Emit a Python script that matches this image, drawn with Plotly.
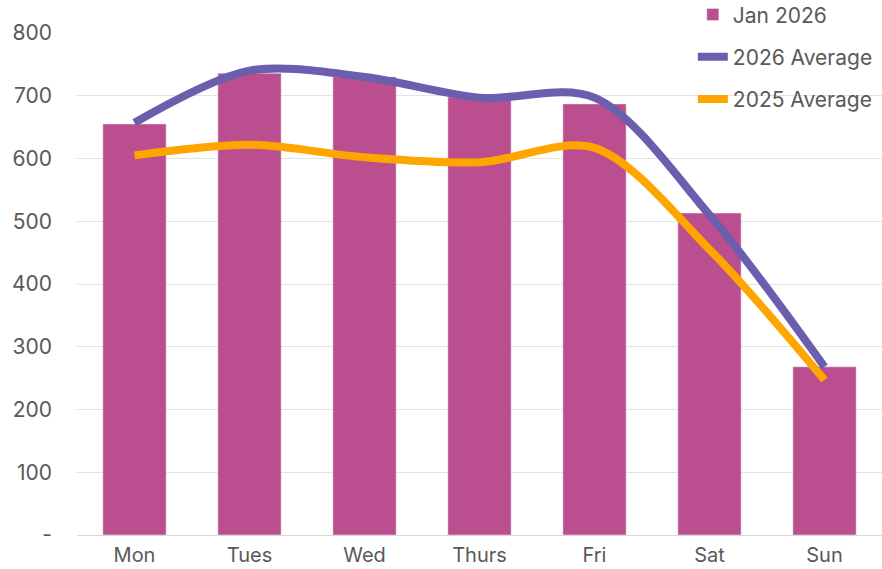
import plotly.graph_objects as go

days = ["Mon", "Tues", "Wed", "Thurs", "Fri", "Sat", "Sun"]
jan_2026 = [655, 736, 730, 698, 687, 513, 268]
avg_2026 = [657, 740, 730, 697, 697, 510, 268]
avg_2025 = [605, 622, 602, 594, 617, 455, 247]
y_ticks = [0, 100, 200, 300, 400, 500, 600, 700, 800]
y_tick_text = ["-", "100", "200", "300", "400", "500", "600", "700", "800"]

fig = go.Figure()
fig.add_trace(go.Bar(x=days, y=jan_2026, name="Jan 2026", marker_color="#BA4E8E",
                     legendgroup="a", width=0.55))
fig.add_trace(go.Scatter(x=days, y=avg_2026, name="2026 Average", mode="lines",
                         line=dict(color="#6B5EAE", width=8, shape="spline", smoothing=0.9),
                         legendgroup="b"))
fig.add_trace(go.Scatter(x=days, y=avg_2025, name="2025 Average", mode="lines",
                         line=dict(color="#FFA500", width=8, shape="spline", smoothing=0.9),
                         legendgroup="c"))

fig.update_layout(
    width=882, height=569,
    margin=dict(l=77, r=0, t=33, b=34, autoexpand=False),
    plot_bgcolor="white", paper_bgcolor="white",
    font=dict(family="Inter, Lato, sans-serif", size=19, color="#595959"),
    showlegend=True,
    legend=dict(x=0.765, y=1.077, xanchor="left", yanchor="top",
                bgcolor="rgba(0,0,0,0)", font=dict(size=21, color="#595959"),
                tracegroupgap=12, traceorder="grouped"),
    xaxis=dict(showgrid=False, showline=True, linecolor="#D9D9D9", linewidth=1,
               ticks="", tickfont=dict(size=20), ticklabelstandoff=2),
    yaxis=dict(range=[0, 800], tickvals=y_ticks, ticktext=y_tick_text,
               showgrid=True, gridcolor="#E3E3E3", gridwidth=1, zeroline=False,
               ticks="", ticklabelstandoff=24, tickfont=dict(size=21)),
)

fig.write_html("out.html", config={"displayModeBar": False},
               post_script="document.body.style.margin='0';document.body.style.overflow='hidden';")
